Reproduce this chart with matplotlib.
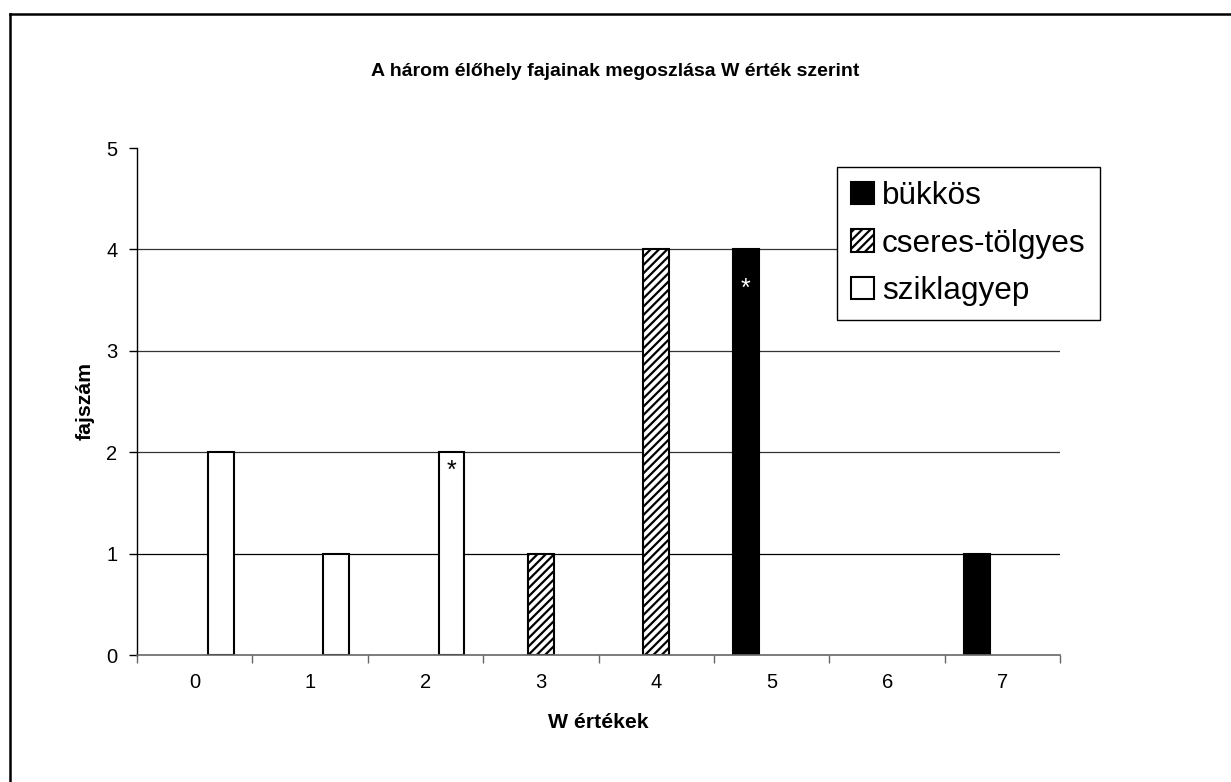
import matplotlib
matplotlib.use("Agg")
from matplotlib import pyplot as plt
from matplotlib.lines import Line2D
import numpy as np

plt.rcParams['font.family'] = ['Liberation Sans', 'DejaVu Sans']
plt.rcParams['hatch.linewidth'] = 1.6

# data
w_values = [0, 1, 2, 3, 4, 5, 6, 7]
bukkos = [0, 0, 0, 0, 0, 4, 0, 1]
cseres = [0, 0, 0, 1, 4, 0, 0, 0]
sziklagyep = [2, 1, 2, 0, 0, 0, 0, 0]
series_names = ["bükkös", "cseres-tölgyes", "sziklagyep"]
# asterisks: (W value, series index)
stars = [(2, 2), (5, 0)]

fig = plt.figure(figsize=(12.31, 7.82), dpi=100)
ax = fig.add_axes([0.1113, 0.1624, 0.75, 0.6483])

x = np.array(w_values, dtype=float)
w = 0.225
offsets = [-w, 0, w]
styles = [dict(color="black", edgecolor="black"),
          dict(color="white", edgecolor="black", hatch="////"),
          dict(color="white", edgecolor="black")]
all_series = [bukkos, cseres, sziklagyep]

handles = []
for vals, off, st, name in zip(all_series, offsets, styles, series_names):
    v = np.array(vals, dtype=float)
    m = v > 0
    bars = ax.bar(x[m] + off, v[m], width=w, linewidth=1.5, label=name,
                  zorder=3, **st)
    handles.append(bars)

# asterisk marks
for cat, si in stars:
    xv = w_values.index(cat)
    yv = all_series[si][xv]
    col = "white" if si == 0 else "black"
    dy = -20 if si == 0 else -5
    ax.annotate("*", (x[xv] + offsets[si], yv), xytext=(0, dy),
                textcoords="offset points", ha="center", va="top",
                fontsize=18, color=col, zorder=5)

ax.set_xlim(-0.5, 7.5)
ax.set_ylim(0, 5)
ax.set_yticks(range(6))
for yy in range(1, 5):
    ax.axhline(yy, color="#333333" if yy > 1 else "black", linewidth=0.9, zorder=1)

ax.set_xticks(np.arange(-0.5, 8, 1))
ax.set_xticklabels([])
ax.set_xticks(x, minor=True)
ax.set_xticklabels([str(v) for v in w_values], minor=True)
ax.tick_params(axis="x", which="minor", length=0, pad=13, labelsize=14.5)
ax.tick_params(axis="x", which="major", length=6, direction="out", color="#666666", width=1)
ax.tick_params(axis="y", length=6, direction="out", width=1, pad=8, labelsize=14.5)

for s in ["top", "right"]:
    ax.spines[s].set_visible(False)
ax.spines["left"].set_color("black")
ax.spines["left"].set_linewidth(1)
ax.spines["bottom"].set_color("#666666")
ax.spines["bottom"].set_linewidth(1.2)
ax.spines["bottom"].set_zorder(4)

fig.text(0.5, 1 - 72 / 782, "A három élőhely fajainak megoszlása W érték szerint",
         ha="center", va="center", fontsize=14, fontweight="bold")
fig.text(598.5 / 1231, 1 - 723 / 782, "W értékek", ha="center", va="center",
         fontsize=15.3, fontweight="bold")
fig.text(85 / 1231, 1 - 401 / 782, "fajszám", ha="center", va="center",
         rotation=90, fontsize=15.3, fontweight="bold")

leg = fig.legend(handles=handles, labels=series_names, loc="upper left",
                 bbox_to_anchor=(837 / 1231, 1 - 167 / 782),
                 bbox_transform=fig.transFigure, borderaxespad=0,
                 fontsize=22.7, frameon=True, fancybox=False, shadow=False,
                 handlelength=0.72, handleheight=0.72, handletextpad=0.25,
                 labelspacing=0.55, borderpad=0.45)
leg.get_frame().set_edgecolor("black")
leg.get_frame().set_linewidth(1)
leg.get_frame().set_alpha(1)

# outer frame lines (top and left)
fig.add_artist(Line2D([10 / 1231, 1], [1 - 14 / 782, 1 - 14 / 782],
                      transform=fig.transFigure, color="black", linewidth=1.8))
fig.add_artist(Line2D([10 / 1231, 10 / 1231], [0, 1 - 14 / 782],
                      transform=fig.transFigure, color="black", linewidth=1.8))

fig.savefig("out.png", dpi=100)
